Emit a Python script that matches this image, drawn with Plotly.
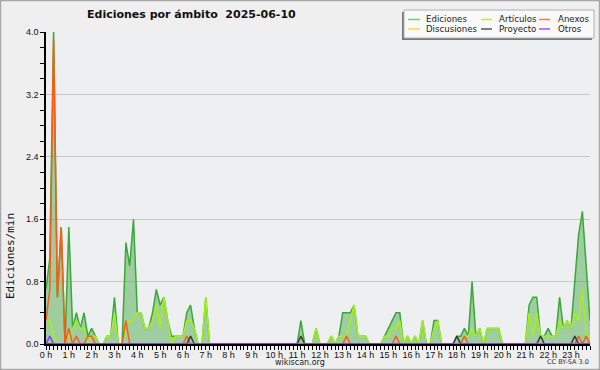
import plotly.graph_objects as go

# ---------------- data (10-minute steps, edits per minute) ----------------
n_points = 144
hours = [i / 6 for i in range(n_points)]
hour_ticks = list(range(24))
hour_labels = [f"{h} h" for h in hour_ticks]

ediciones = [0.7, 1.1, 4.0, 0.6, 1.5, 0.0, 1.5, 0.2, 0.4, 0.2, 0.4, 0.1,
             0.2, 0.1, 0.0, 0.0, 0.1, 0.1, 0.6, 0.0, 0.0, 1.3, 1.0, 1.6,
             0.4, 0.4, 0.2, 0.2, 0.4, 0.7, 0.5, 0.6, 0.3, 0.1, 0.1, 0.1,
             0.1, 0.4, 0.5, 0.2, 0.0, 0.0, 0.6, 0.0, 0.0, 0.0, 0.0, 0.0,
             0.0, 0.0, 0.0, 0.0, 0.0, 0.0, 0.0, 0.0, 0.0, 0.0, 0.0, 0.0,
             0.0, 0.0, 0.0, 0.0, 0.0, 0.0, 0.0, 0.3, 0.0, 0.0, 0.0, 0.2,
             0.0, 0.0, 0.0, 0.1, 0.0, 0.1, 0.4, 0.4, 0.4, 0.5, 0.1, 0.1,
             0.1, 0.0, 0.0, 0.0, 0.0, 0.1, 0.2, 0.3, 0.4, 0.4, 0.0, 0.1,
             0.0, 0.1, 0.0, 0.3, 0.0, 0.0, 0.3, 0.3, 0.0, 0.0, 0.0, 0.0,
             0.1, 0.1, 0.2, 0.1, 0.8, 0.1, 0.2, 0.0, 0.2, 0.2, 0.2, 0.2,
             0.0, 0.0, 0.0, 0.0, 0.0, 0.0, 0.0, 0.5, 0.6, 0.6, 0.1, 0.1,
             0.2, 0.1, 0.1, 0.6, 0.2, 0.3, 0.2, 0.8, 1.4, 1.7, 1.0, 0.3]

articulos = [0.3, 0.3, 0.1, 0.0, 0.0, 0.0, 0.1, 0.2, 0.3, 0.2, 0.2, 0.0,
             0.1, 0.1, 0.0, 0.0, 0.1, 0.1, 0.4, 0.0, 0.0, 0.2, 0.3, 0.3,
             0.4, 0.4, 0.2, 0.2, 0.3, 0.5, 0.2, 0.6, 0.3, 0.0, 0.1, 0.1,
             0.1, 0.3, 0.3, 0.2, 0.0, 0.0, 0.6, 0.0, 0.0, 0.0, 0.0, 0.0,
             0.0, 0.0, 0.0, 0.0, 0.0, 0.0, 0.0, 0.0, 0.0, 0.0, 0.0, 0.0,
             0.0, 0.0, 0.0, 0.0, 0.0, 0.0, 0.0, 0.1, 0.0, 0.0, 0.0, 0.2,
             0.0, 0.0, 0.0, 0.1, 0.0, 0.1, 0.1, 0.1, 0.3, 0.5, 0.1, 0.1,
             0.1, 0.0, 0.0, 0.0, 0.0, 0.1, 0.1, 0.2, 0.2, 0.3, 0.0, 0.1,
             0.0, 0.1, 0.0, 0.3, 0.0, 0.0, 0.2, 0.3, 0.0, 0.0, 0.0, 0.0,
             0.0, 0.0, 0.1, 0.1, 0.2, 0.1, 0.2, 0.0, 0.2, 0.2, 0.2, 0.2,
             0.0, 0.0, 0.0, 0.0, 0.0, 0.0, 0.0, 0.4, 0.1, 0.4, 0.1, 0.1,
             0.1, 0.1, 0.1, 0.3, 0.2, 0.3, 0.2, 0.4, 0.3, 0.7, 0.1, 0.1]

anexos = [0.0] * n_points
for idx, val in [(0, 0.3), (1, 0.7), (2, 3.9), (3, 0.6), (4, 1.5), (6, 0.2),
                 (8, 0.1), (11, 0.1), (12, 0.1), (21, 0.3), (37, 0.1),
                 (79, 0.1), (92, 0.1), (110, 0.1), (140, 0.1), (142, 0.1)]:
    anexos[idx] = val

discusiones = [0.0] * n_points

proyecto = [0.0] * n_points
for idx in [38, 67, 108, 130, 139]:
    proyecto[idx] = 0.1

otros = [0.0] * n_points
otros[1] = 0.1

series = [
    ("Ediciones", ediciones, "#3aa83a"),
    ("Artículos", articulos, "#a6f01a"),
    ("Anexos", anexos, "#ff5a14"),
    ("Discusiones", discusiones, "#ffcc22"),
    ("Proyecto", proyecto, "#3a3a3a"),
    ("Otros", otros, "#8a3cff"),
]

# ---------------- figure ----------------
L, R, T, B = 46, 10, 32, 26
W, H = 600, 370
PW, PH = W - L - R, H - T - B


def px(x):
    return (x - L) / PW


def py(y):
    return (H - B - y) / PH


fig = go.Figure()
fig.add_trace(go.Scatter(x=hours, y=ediciones, mode="lines", fill="tozeroy",
                         fillcolor="rgba(60,165,60,0.45)",
                         line=dict(color="rgba(0,0,0,0)", width=0),
                         showlegend=False, hoverinfo="skip"))
for name, vals, col in series:
    fig.add_trace(go.Scatter(x=hours, y=vals, mode="lines", name=name,
                             line=dict(color=col, width=1.5), showlegend=False))

fig.update_layout(
    width=W, height=H,
    margin=dict(l=L, r=R, t=T, b=B),
    paper_bgcolor="#efefef",
    plot_bgcolor="#eeeff1",
    font=dict(family="DejaVu Sans", size=9, color="#111"),
    showlegend=False,
)

fig.update_xaxes(
    range=[0, hours[-1]],
    tickvals=hour_ticks, ticktext=hour_labels,
    tickfont=dict(family="Liberation Sans Narrow, Liberation Sans", size=9, color="#111"),
    ticks="outside", ticklen=4, tickcolor="#000", tickwidth=1,
    ticklabelstandoff=-3,
    minor=dict(dtick=1 / 6, tick0=0, ticks="outside", ticklen=4, tickcolor="#000", showgrid=False),
    showline=True, linecolor="#000", linewidth=1.5,
    showgrid=False, zeroline=False, fixedrange=True,
)
fig.update_yaxes(
    range=[0, 4.0],
    tick0=0, dtick=0.8, tickformat=".1f",
    tickfont=dict(family="Liberation Sans Narrow, Liberation Sans", size=9, color="#111"),
    ticks="outside", ticklen=4, tickcolor="#000", tickwidth=1,
    minor=dict(dtick=0.2, tick0=0, ticks="outside", ticklen=4, tickcolor="#000", showgrid=False),
    showline=True, linecolor="#000", linewidth=1.5,
    showgrid=True, gridcolor="#c8c8c8", gridwidth=1,
    zeroline=False, fixedrange=True,
)

shapes = []
# outer frame
shapes.append(dict(type="rect", xref="paper", yref="paper", layer="below",
                   x0=px(0.5), x1=px(599.5), y0=py(369.5), y1=py(0.5),
                   line=dict(color="#a8a8a8", width=1.5), fillcolor="rgba(0,0,0,0)"))
# legend shadow + box
shapes.append(dict(type="rect", xref="paper", yref="paper",
                   x0=px(402), x1=px(592), y0=py(40), y1=py(12),
                   line=dict(width=0), fillcolor="#777777"))
shapes.append(dict(type="rect", xref="paper", yref="paper",
                   x0=px(404), x1=px(594), y0=py(38), y1=py(10),
                   line=dict(color="#b0b0b0", width=1), fillcolor="#f9f9f9"))

annotations = []
leg_cols = [(408, 420, 424), (481, 492, 496.5), (539, 550, 555.5)]
leg_rows = [19.5, 29]
leg_colors = ["#77cc77", "#b5f03a", "#ff7a44", "#ffd24a", "#555555", "#9a55ff"]
for k, (name, vals, col) in enumerate(series):
    r, c = divmod(k, 3)
    x0, x1, xt = leg_cols[c]
    yy = leg_rows[r]
    shapes.append(dict(type="line", xref="paper", yref="paper",
                       x0=px(x0), x1=px(x1), y0=py(yy), y1=py(yy),
                       line=dict(color=leg_colors[k], width=1.5)))
    annotations.append(dict(text=name, xref="paper", yref="paper",
                            x=px(xt), y=py(yy), xanchor="left", yanchor="middle",
                            showarrow=False,
                            font=dict(family="DejaVu Sans", size=8.6, color="#222")))

annotations.append(dict(text="<b>Ediciones por ámbito  2025-06-10</b>", xref="paper", yref="paper",
                        x=px(85), y=py(15), xanchor="left", yanchor="middle", showarrow=False,
                        font=dict(family="DejaVu Sans", size=11, color="#111")))
annotations.append(dict(text="Ediciones/min", xref="paper", yref="paper", textangle=-90,
                        x=px(10), y=py(256), xanchor="center", yanchor="middle", showarrow=False,
                        font=dict(family="DejaVu Sans Mono", size=11, color="#111")))
annotations.append(dict(text="wikiscan.org", xref="paper", yref="paper",
                        x=px(300), y=py(362), xanchor="center", yanchor="middle", showarrow=False,
                        font=dict(family="DejaVu Sans", size=8, color="#222")))
annotations.append(dict(text="CC BY-SA 3.0", xref="paper", yref="paper",
                        x=px(591), y=py(362), xanchor="right", yanchor="middle", showarrow=False,
                        font=dict(family="DejaVu Sans", size=6.5, color="#333")))

fig.update_layout(shapes=shapes, annotations=annotations)
fig.write_html("out.html", config={"displayModeBar": False},
               post_script="document.body.style.margin='0';document.body.style.padding='0';")
